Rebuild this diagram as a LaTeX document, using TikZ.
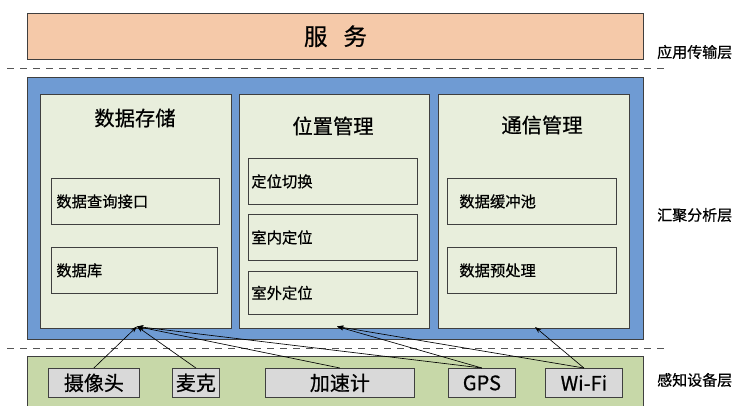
\documentclass[tikz,border=0pt]{standalone}
\usepackage{fontspec}
\newfontfamily\cjk[FakeBold=0.6]{Noto Sans CJK SC}
\usetikzlibrary{arrows.meta}
\definecolor{orangec}{HTML}{F5C9A9}
\definecolor{bluec}{HTML}{6F9BD3}
\definecolor{innerc}{HTML}{E8EEDC}
\definecolor{greenc}{HTML}{C7D8A8}
\definecolor{grayc}{HTML}{D9D9D9}
\definecolor{bordc}{HTML}{3F3F3F}
\definecolor{dashc}{HTML}{555555}
\tikzset{
  layerbox/.style={draw=bordc, line width=0.9pt, anchor=north west, inner sep=0pt, minimum width=616pt},
  panel/.style={draw=bordc, line width=0.8pt, fill=innerc, anchor=north west, inner sep=0pt, minimum height=234pt},
  subbox/.style={draw=bordc, line width=0.8pt, fill=innerc, anchor=north west, minimum height=46pt, align=left, inner ysep=0pt, font=\cjk\fontsize{15.3}{18}\selectfont},
  devbox/.style={draw=bordc, line width=0.8pt, fill=grayc, anchor=north west, inner sep=0pt, minimum height=29pt, font=\cjk\fontsize{20}{22}\selectfont},
  ttl/.style={font=\cjk\fontsize{20.3}{23}\selectfont, inner sep=0pt},
  lbl/.style={font=\cjk\fontsize{15}{17}\selectfont, anchor=west, inner sep=0pt},
  sep/.style={draw=dashc, line width=1pt, dash pattern=on 7pt off 6pt},
  arr/.style={draw=black, line width=0.65pt, -{Stealth[length=6.5pt,width=4.5pt]}}
}
\begin{document}
\begin{tikzpicture}[x=1pt,y=-1pt]
\useasboundingbox (0,0) rectangle (733,405);
% top layer
\node[layerbox, fill=orangec, minimum height=46.5pt, font=\cjk\fontsize{23.5}{26}\selectfont] (service) at (27,12.5) {服\hspace{16pt}务};
\node[lbl] (l1) at (657,52) {应用传输层};
\coordinate (d1a) at (7,68);
\coordinate (d1b) at (664,68);
\draw[sep] (d1a) -- (d1b);
% middle layer
\node[layerbox, fill=bluec, minimum height=262pt] (mid) at (27,77) {};
\node[panel, minimum width=191pt] (p1) at (40,94) {};
\node[panel, minimum width=190pt] (p2) at (239,94) {};
\node[panel, minimum width=191pt] (p3) at (438,94) {};
\node[ttl] (t1) at (135,118) {数据存储};
\node[ttl] (t2) at (333,126) {位置管理};
\node[ttl] (t3) at (542,125) {通信管理};
\node[subbox, text width=158pt, inner xsep=5pt] (s11) at (51,178) {数据查询接口};
\node[subbox, text width=156pt, inner xsep=5pt] (s12) at (51,247) {数据库};
\node[subbox, text width=163pt, inner xsep=3pt] (s21) at (248,158) {定位切换};
\node[subbox, text width=163pt, inner xsep=3pt] (s22) at (248,214) {室内定位};
\node[subbox, text width=163pt, inner xsep=3pt, minimum height=43pt] (s23) at (248,271) {室外定位};
\node[subbox, text width=145pt, inner xsep=12pt] (s31) at (447,178) {数据缓冲池};
\node[subbox, text width=145pt, inner xsep=12pt] (s32) at (447,247) {数据预处理};
\node[lbl] (l2) at (657,215) {汇聚分析层};
\coordinate (d2a) at (7,348);
\coordinate (d2b) at (664,348);
\draw[sep] (d2a) -- (d2b);
% bottom layer
\node[layerbox, fill=greenc, minimum height=52pt] (bot) at (27,356) {};
\node[devbox, minimum width=91pt] (cam) at (48,368) {摄像头};
\node[devbox, minimum width=47pt] (mic) at (172,368) {麦克};
\node[devbox, minimum width=149pt] (acc) at (265,368) {加速计};
\node[devbox, minimum width=67pt] (gps) at (448,368) {GPS};
\node[devbox, minimum width=77pt] (wifi) at (545,368) {Wi-Fi};
\node[lbl] (l3) at (657,380) {感知设备层};
% arrows
\coordinate (a1) at (137,326.5);
\coordinate (a2) at (337,326.5);
\coordinate (a3) at (535,327);
\draw[arr] (cam.north) -- (a1);
\draw[arr] (mic.north) -- (a1);
\draw[arr] (acc.north) -- (a1);
\draw[arr] (gps.north) -- (a1);
\draw[arr] (gps.north) -- (a2);
\draw[arr] (wifi.north) -- (a2);
\draw[arr] (wifi.north) -- (a3);
\end{tikzpicture}
\end{document}
